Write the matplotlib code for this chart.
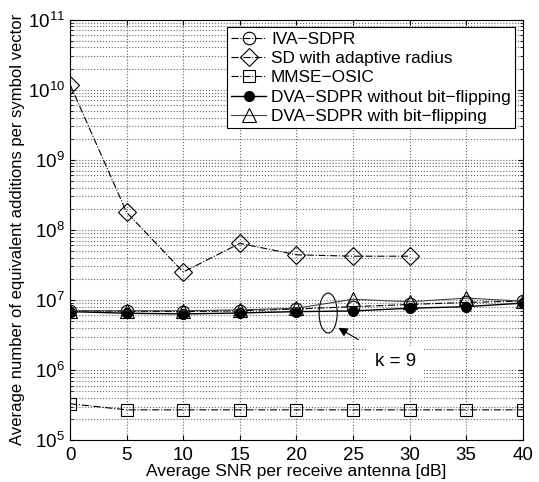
import matplotlib.pyplot as plt
from matplotlib.patches import Ellipse

plt.rcParams['font.family'] = ['Liberation Sans', 'DejaVu Sans']

snr = [0, 5, 10, 15, 20, 25, 30, 35, 40]
snr_sd = [0, 5, 10, 15, 20, 25, 30]
iva_sdpr = [7.0e6, 6.9e6, 6.8e6, 7.0e6, 7.4e6, 8.0e6, 8.6e6, 9.2e6, 9.6e6]
sd_adaptive = [1.18e10, 1.77e8, 2.5e7, 6.4e7, 4.4e7, 4.2e7, 4.2e7]
mmse_osic = [3.3e5, 2.7e5, 2.7e5, 2.7e5, 2.7e5, 2.7e5, 2.7e5, 2.7e5, 2.7e5]
dva_no_flip = [6.8e6, 6.45e6, 6.3e6, 6.5e6, 6.8e6, 6.95e6, 7.6e6, 8.0e6, 9.0e6]
dva_flip = [7.0e6, 7.0e6, 7.0e6, 7.2e6, 7.6e6, 1.02e7, 9.4e6, 1.06e7, 9.6e6]
y_ticks = [1e5, 1e6, 1e7, 1e8, 1e9, 1e10, 1e11]

fig = plt.figure(figsize=(5.39, 4.82), dpi=100)
ax = fig.add_axes([0.13, 0.087, 0.84, 0.8725])

ax.plot(snr, iva_sdpr, color='k', linestyle='-.', linewidth=0.8, marker='o',
        markersize=9, markerfacecolor='none', markeredgewidth=0.8, label='IVA\u2212SDPR')
ax.plot(snr_sd, sd_adaptive, color='k', linestyle='-.', linewidth=0.8, marker='D',
        markersize=9, markerfacecolor='none', markeredgewidth=0.8, label='SD with adaptive radius')
ax.plot(snr, mmse_osic, color='k', linestyle='-.', linewidth=0.8, marker='s',
        markersize=8, markerfacecolor='none', markeredgewidth=0.8, label='MMSE\u2212OSIC')
ax.plot(snr, dva_no_flip, color='k', linestyle='-', linewidth=1.0, marker='o',
        markersize=7, markerfacecolor='k', label='DVA\u2212SDPR without bit\u2212flipping')
ax.plot(snr, dva_flip, color='#444444', linestyle='-', linewidth=0.8, marker='^',
        markersize=10, markerfacecolor='none', markeredgecolor='k', markeredgewidth=0.8,
        label='DVA\u2212SDPR with bit\u2212flipping')

ax.set_yscale('log')
ax.set_xlim(0, 40)
ax.set_ylim(1e5, 1e11)
ax.set_xticks(snr)
ax.set_yticks(y_ticks)
ax.tick_params(which='both', direction='in', top=True, right=True, labelsize=13.5)
ax.tick_params(axis='x', pad=5)
ax.grid(True, which='major', linestyle=':', color='#666666', linewidth=0.8)
ax.grid(True, which='minor', axis='y', linestyle=':', color='#666666', linewidth=0.8)

ax.set_xlabel('Average SNR per receive antenna [dB]', fontsize=12.5, labelpad=0)
ax.set_ylabel('Average number of equivalent additions per symbol vector', fontsize=12, labelpad=2)

ell = Ellipse((0.57, 0.302), 0.04, 0.095, transform=ax.transAxes,
              fill=False, edgecolor='k', linewidth=0.8)
ax.add_patch(ell)
ax.annotate('k = 9', xy=(23.7, 4.0e6), xytext=(28.8, 1.3e6), fontsize=13.5,
            ha='center', va='center',
            bbox=dict(boxstyle='square,pad=0.4', fc='white', ec='none'),
            arrowprops=dict(arrowstyle='-|>', color='k', linewidth=0.8, shrinkA=9, shrinkB=0))

leg = ax.legend(loc='upper right', fontsize=12.4, fancybox=False, framealpha=1,
                edgecolor='k', borderaxespad=0.45, handlelength=2.0, labelspacing=0.25,
                borderpad=0.25, handletextpad=0.3)
leg.get_frame().set_linewidth(0.8)

fig.savefig('out.png', dpi=100)
